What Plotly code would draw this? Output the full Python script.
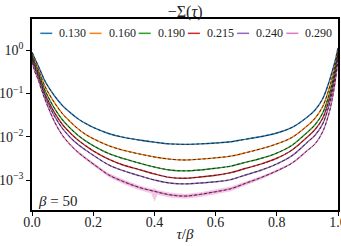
import plotly.graph_objects as go

# tau / beta grid at which values were read
tau = [0, 0.005, 0.01, 0.02, 0.03, 0.04, 0.05, 0.075, 0.1, 0.125, 0.15, 0.175,
       0.2, 0.25, 0.3, 0.35, 0.4, 0.45, 0.5, 0.55, 0.6, 0.65, 0.7, 0.75, 0.8,
       0.85, 0.9, 0.925, 0.95, 0.97, 0.98, 0.99, 1.0]

# log10(-Sigma(tau)), one list per U value
labels = ["0.130", "0.160", "0.190", "0.215", "0.240", "0.290"]
colors = ["#1f77b4", "#ff7f0e", "#2ca02c", "#d62728", "#9467bd", "#e377c2"]

log_s_0130 = [-0.05, -0.13, -0.21, -0.36, -0.52, -0.68, -0.81, -1.07, -1.28, -1.44, -1.58, -1.69,
              -1.78, -1.92, -2.01, -2.07, -2.12, -2.16, -2.17, -2.16, -2.14, -2.11, -2.05, -1.99, -1.91,
              -1.78, -1.54, -1.38, -1.12, -0.75, -0.52, -0.27, 0.05]
log_s_0160 = [-0.09, -0.19, -0.28, -0.44, -0.62, -0.80, -0.94, -1.23, -1.47, -1.65, -1.81, -1.94,
              -2.04, -2.20, -2.31, -2.39, -2.46, -2.51, -2.53, -2.51, -2.48, -2.44, -2.36, -2.27, -2.16,
              -2.01, -1.74, -1.57, -1.30, -0.91, -0.66, -0.37, 0.00]
log_s_0190 = [-0.13, -0.24, -0.34, -0.51, -0.70, -0.89, -1.04, -1.36, -1.61, -1.80, -1.96, -2.09,
              -2.20, -2.38, -2.50, -2.60, -2.69, -2.76, -2.78, -2.76, -2.72, -2.67, -2.58, -2.49, -2.37,
              -2.19, -1.89, -1.72, -1.45, -1.05, -0.79, -0.47, -0.05]
log_s_0215 = [-0.17, -0.29, -0.39, -0.57, -0.77, -0.97, -1.13, -1.46, -1.72, -1.91, -2.07, -2.20,
              -2.32, -2.51, -2.65, -2.75, -2.85, -2.93, -2.95, -2.92, -2.88, -2.82, -2.72, -2.62, -2.49,
              -2.30, -2.00, -1.83, -1.57, -1.17, -0.90, -0.56, -0.10]
log_s_0240 = [-0.21, -0.33, -0.44, -0.61, -0.82, -1.02, -1.19, -1.54, -1.81, -2.01, -2.17, -2.30,
              -2.42, -2.64, -2.78, -2.89, -2.99, -3.06, -3.08, -3.06, -3.03, -2.98, -2.87, -2.76, -2.62,
              -2.43, -2.12, -1.96, -1.70, -1.29, -1.01, -0.65, -0.15]
log_s_0290 = [-0.27, -0.40, -0.51, -0.68, -0.89, -1.09, -1.27, -1.67, -1.97, -2.18, -2.35, -2.49,
              -2.62, -2.87, -3.03, -3.16, -3.25, -3.33, -3.36, -3.32, -3.26, -3.19, -3.06, -2.93, -2.78,
              -2.60, -2.31, -2.16, -1.88, -1.47, -1.17, -0.77, -0.23]

# error band of the U = 0.290 data (log10)
band_tau = [0.15, 0.2, 0.25, 0.3, 0.35, 0.39, 0.4, 0.41, 0.45, 0.5, 0.55, 0.6, 0.65, 0.7, 0.75, 0.8, 0.85]
band_hi = [-2.32, -2.59, -2.83, -2.98, -3.11, -3.19, -3.18, -3.22, -3.28, -3.31, -3.27, -3.21, -3.14, -3.02, -2.90, -2.75, -2.58]
band_lo = [-2.38, -2.66, -2.92, -3.09, -3.22, -3.30, -3.49, -3.33, -3.39, -3.42, -3.38, -3.32, -3.25, -3.11, -2.97, -2.81, -2.62]

series = [log_s_0130, log_s_0160, log_s_0190, log_s_0215, log_s_0240, log_s_0290]

FONT = "Liberation Serif, DejaVu Serif, serif"
fig = go.Figure()

# shaded band
fig.add_trace(go.Scatter(
    x=band_tau + band_tau[::-1],
    y=[10 ** v for v in band_hi] + [10 ** v for v in band_lo[::-1]],
    fill="toself", fillcolor="rgba(227,119,194,0.4)", line=dict(width=0),
    mode="lines", showlegend=False, hoverinfo="skip"))

for lab, col, s in zip(labels, colors, series):
    fig.add_trace(go.Scatter(x=tau, y=[10 ** v for v in s], mode="lines", name=lab,
                             line=dict(color=col, width=1.4, shape="spline"), showlegend=False))
for s in series:
    fig.add_trace(go.Scatter(x=tau, y=[10 ** v for v in s], mode="lines",
                             line=dict(color="rgba(30,30,30,0.85)", width=1, dash="3px,2px", shape="spline"),
                             showlegend=False, hoverinfo="skip"))

# manual one-row legend
shapes = []
annotations = []
step = 0.1608
for i, (lab, col) in enumerate(zip(labels, colors)):
    tx = 0.0827 + i * step
    shapes.append(dict(type="line", xref="paper", yref="paper", x0=tx - 0.0556, x1=tx - 0.0164,
                       y0=0.925, y1=0.925, line=dict(color=col, width=1.5)))
    annotations.append(dict(text=lab, xref="paper", yref="paper", x=tx, y=0.925, xanchor="left",
                            yanchor="middle", showarrow=False, font=dict(family=FONT, size=12, color="#222")))

annotations.append(dict(text="<i>β</i> = 50", xref="paper", yref="paper", x=0.012, y=0.045,
                        xanchor="left", yanchor="middle", showarrow=False,
                        font=dict(family=FONT, size=15, color="#222")))

axis_common = dict(showline=True, linecolor="black", linewidth=1.5, mirror=True, ticks="outside",
                   ticklen=4, tickwidth=1.2, tickcolor="black", showgrid=False, zeroline=False,
                   automargin=False, ticklabeloverflow="allow",
                   tickfont=dict(family=FONT, size=14, color="#222"))

fig.update_layout(
    width=341, height=246, margin=dict(l=32, r=3, t=19, b=36),
    paper_bgcolor="white", plot_bgcolor="white",
    title=dict(text="−Σ(<i>τ</i>)", x=0.543, xanchor="center", y=0.952, yanchor="middle",
               font=dict(family=FONT, size=16, color="#222")),
    xaxis=dict(range=[0, 1], tickvals=[0, 0.2, 0.4, 0.6, 0.8, 1.0],
               ticktext=["0.0", "0.2", "0.4", "0.6", "0.8", "1.0"], ticklabelstandoff=-6,
               title=dict(text="<i>τ</i>/<i>β</i>", standoff=0, font=dict(family=FONT, size=15, color="#222")),
               **axis_common),
    yaxis=dict(type="log", range=[-3.68, 0.713], tickvals=[1, 0.1, 0.01, 0.001],
               ticktext=["10<sup>0</sup>", "10<sup>−1</sup>", "10<sup>−2</sup>", "10<sup>−3</sup>"],
               **axis_common),
    shapes=shapes, annotations=annotations, showlegend=False,
)

fig.write_html("out.html", config={"displayModeBar": False},
               post_script="document.body.style.margin='0';")
